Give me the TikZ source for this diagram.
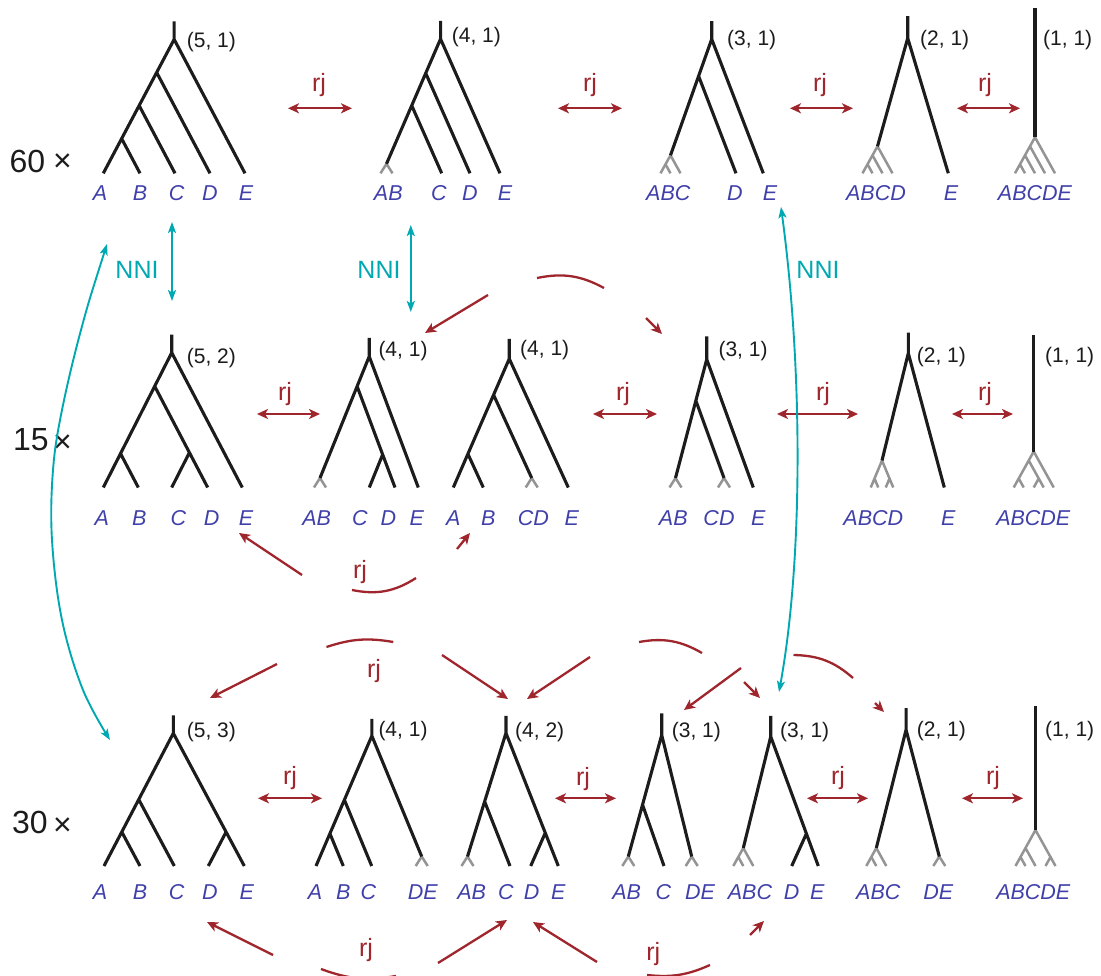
\documentclass[tikz,border=0pt]{standalone}
\usepackage{fontspec}
\setmainfont{Liberation Sans}
\usetikzlibrary{arrows.meta,calc}
\definecolor{lblue}{RGB}{64,64,170}
\definecolor{rjred}{RGB}{158,38,44}
\definecolor{nteal}{RGB}{0,168,178}
\definecolor{fgrey}{RGB}{148,148,148}
\definecolor{ink}{RGB}{28,28,28}
\newcounter{lbl}
\newcommand\Lf[2]{\coordinate (#1) at (#2,\Ly);}
\newcommand\J[3]{\path let \p1=(#2),\p2=(#3) in coordinate (#1) at ({((\y2)-(\y1)+\slL*(\x1)+\slR*(\x2))/(\slL+\slR)},{(\y1)+\slL*((\y2)-(\y1)+\slR*((\x2)-(\x1)))/(\slL+\slR)});}
\newcommand\fanAB[2]{\begin{scope}[shift={(#2,\Ly)}]\coordinate (#1) at (0,-9.5);\draw[fan] (-6,0)--(0,-9.5)--(6,0);\end{scope}}
\newcommand\fanCat[3]{\begin{scope}[shift={(#2,\Ly)}]
 \pgfmathsetmacro\hw{(#3-1)*5}\pgfmathtruncatemacro\nn{#3-2}
 \coordinate (#1) at (0,{-1.8*\hw});
 \draw[fan] (-\hw,0)--(0,{-1.8*\hw})--(\hw,0);
 \foreach \i in {1,...,\nn}{\draw[fan] ({-\hw+10*\i},0)--({-\hw+5*\i},{-9*\i});}
\end{scope}}
\newcommand\fanQ[2]{\begin{scope}[shift={(#2,\Ly)}]\coordinate (#1) at (0,-27);
 \draw[fan] (-11.25,0)--(0,-27)--(11.25,0) (-3.75,0)--(-7.5,-9) (3.75,0)--(7.5,-9);\end{scope}}
\newcommand\fanPa[2]{\begin{scope}[shift={(#2,\Ly)}]\coordinate (#1) at (0,-36);
 \draw[fan] (-20,0)--(0,-36)--(20,0) (-10,0)--(-15,-9) (0,0)--(5,-9) (10,0)--(-5,-27);\end{scope}}
\newcommand\fanPb[2]{\begin{scope}[shift={(#2,\Ly)}]\coordinate (#1) at (0,-36);
 \draw[fan] (-20,0)--(0,-36)--(20,0) (-10,0)--(-15,-9) (0,0)--(-10,-18) (10,0)--(15,-9);\end{scope}}
\newcommand\lb[2]{\stepcounter{lbl}\node[lab] (lb\arabic{lbl}) at (#1,\LabY) {#2};}
\newcommand\nk[3]{\stepcounter{lbl}\node[num] (nk\arabic{lbl}) at (#1,#2) {#3};}
\newcommand\rjd[6]{\coordinate (#1s) at (#2,#4); \coordinate (#1e) at (#3,#4);
 \draw[rja] (#1s) -- (#1e); \node[rjl] (#1l) at (#5,#6) {rj};}
\newcommand\rjs[5]{\coordinate (#1s) at (#2,#3); \coordinate (#1e) at (#4,#5); \draw[rjh] (#1s) -- (#1e);}
\newcommand\rjc[6]{\coordinate (#1s) at (#2,#3); \coordinate (#1e) at (#4,#5); \draw[rjarc] (#1s) to[#6] (#1e);}
\begin{document}
\begin{tikzpicture}[x=1pt,y=-1pt,
  br/.style={draw=ink,line width=3.1pt},
  fan/.style={draw=fgrey,line width=2.5pt},
  lab/.style={font=\fontsize{21.5}{24}\selectfont\itshape,text=lblue,inner sep=0pt},
  num/.style={font=\fontsize{21}{24}\selectfont,text=ink,inner sep=0pt,anchor=west},
  rjl/.style={font=\fontsize{25}{28}\selectfont,text=rjred,inner sep=0pt,anchor=base},
  rja/.style={draw=rjred,line width=2.3pt,{Stealth[length=11pt,width=10pt,inset=3pt]}-{Stealth[length=11pt,width=10pt,inset=3pt]}},
  rjh/.style={draw=rjred,line width=2.3pt,-{Stealth[length=11pt,width=10pt,inset=3pt]}},
  rjarc/.style={draw=rjred,line width=2.3pt},
  nni/.style={draw=nteal,line width=1.9pt,{Stealth[length=11pt,width=8pt,inset=2.5pt]}-{Stealth[length=11pt,width=8pt,inset=2.5pt]}},
  nnil/.style={font=\fontsize{25}{28}\selectfont,text=nteal,inner sep=0pt},
  big/.style={font=\fontsize{32}{36}\selectfont,text=ink,inner sep=0pt}]
\useasboundingbox (0,0) rectangle (1101,976);
\fill[white] (0,0) rectangle (1101,976);

% ---------------- row labels
\node[big] (n60) at (27.5,161.7) {60};
\node[big] (x60) at (62.5,163) {×};
\node[big] (n15) at (30.8,439.2) {15};
\node[big] (x15) at (62.5,444) {×};
\node[big] (n30) at (30,822.5) {30};
\node[big] (x30) at (62.5,826.7) {×};

% ================= ROW 1
\def\Ly{173.3}\def\LabY{192.7}
% (5,1)
\def\slL{1.89}\def\slR{1.89}
\Lf{a}{103.3}\Lf{b}{140}\Lf{c}{175}\Lf{d}{210}\Lf{e}{245}
\J{ab}{a}{b}\J{abc}{a}{c}\J{abcd}{a}{d}\J{r}{a}{e}
\draw[br] (a)--(r)--(e) (b)--(ab) (c)--(abc) (d)--(abcd) (r)--++(0,-18);
\nk{186.7}{41.7}{(5, 1)}
\lb{100}{A}\lb{140}{B}\lb{176.7}{C}\lb{210}{D}\lb{246}{E}
% (4,1)
\def\slL{2.31}\def\slR{2.26}
\fanAB{f}{386.5}\Lf{c}{441.7}\Lf{d}{470}\Lf{e}{500}
\J{n1}{f}{c}\J{n2}{f}{d}\J{r}{f}{e}
\draw[br] (f)--(r)--(e) (c)--(n1) (d)--(n2) (r)--++(0,-18);
\nk{451.7}{37}{(4, 1)}
\lb{388.3}{AB}\lb{439}{C}\lb{470}{D}\lb{505}{E}
% (3,1)
\def\slL{2.82}\def\slR{2.6}
\fanCat{f}{670.5}{3}\Lf{d}{736}\Lf{e}{763.3}
\J{n1}{f}{d}\J{r}{f}{e}
\draw[br] (f)--(r)--(e) (d)--(n1) (r)--++(0,-18);
\nk{727}{40}{(3, 1)}
\lb{668.3}{ABC}\lb{735}{D}\lb{770}{E}
% (2,1)
\def\slL{3.58}\def\slR{3.33}
\fanCat{f}{877.5}{4}\Lf{e}{948.3}
\J{r}{f}{e}
\draw[br] (f)--(r)--(e) (r)--++(0,-22);
\nk{920}{40}{(2, 1)}
\lb{876}{ABCD}\lb{951}{E}
% (1,1)
\fanCat{f}{1035}{5}
\draw[br] (f)--++(0,-129);
\nk{1043}{40}{(1, 1)}
\lb{1035}{ABCDE}
% rj arrows row 1
\rjd{pa}{288}{352}{108.3}{319}{91.7}
\rjd{pb}{558}{622}{108.3}{590}{91.7}
\rjd{pc}{790}{853}{108.3}{820}{91.7}
\rjd{pd}{957}{1020}{108.3}{985}{91.7}

% ================= ROW 2
\def\Ly{487.5}\def\LabY{518.3}
% (5,2)
\def\slL{1.97}\def\slR{1.91}
\Lf{a}{103.3}\Lf{b}{138.3}\Lf{c}{171.7}\Lf{d}{207.7}\Lf{e}{242.3}
\J{ab}{a}{b}\J{cd}{c}{d}\J{abcd}{a}{d}\J{r}{a}{e}
\draw[br] (a)--(r)--(e) (b)--(ab) (d)--(abcd) (c)--(cd) (r)--++(0,-18);
\nk{186.7}{358.3}{(5, 2)}
\lb{101.7}{A}\lb{139.3}{B}\lb{178.3}{C}\lb{211.7}{D}\lb{246}{E}
% (4,1)
\def\slL{2.47}\def\slR{2.67}
\fanAB{f}{320}\Lf{c}{369.3}\Lf{d}{395}\Lf{e}{418.3}
\J{cd}{c}{d}\J{n}{f}{d}\J{r}{f}{e}
\draw[br] (f)--(r)--(e) (d)--(n) (c)--(cd) (r)--++(0,-18.5);
\nk{378.3}{351.4}{(4, 1)}
\lb{316.7}{AB}\lb{360}{C}\lb{388.3}{D}\lb{416.7}{E}
% (4,1)
\def\slL{2.3}\def\slR{2.18}
\Lf{a}{453.3}\Lf{b}{483.3}\fanAB{g}{531.7}\Lf{e}{568.3}
\J{ab}{a}{b}\J{n}{a}{g}\J{r}{a}{e}
\draw[br] (a)--(r)--(e) (b)--(ab) (g)--(n) (r)--++(0,-20);
\nk{520}{350}{(4, 1)}
\lb{453.3}{A}\lb{488.3}{B}\lb{533.3}{CD}\lb{571.7}{E}
% (3,1)
\def\slL{3.8}\def\slR{2.75}
\fanAB{f}{675.5}\fanAB{g}{724}\Lf{e}{753.3}
\J{n}{f}{g}\J{r}{f}{e}
\draw[br] (f)--(r)--(e) (g)--(n) (r)--++(0,-23);
\nk{718.3}{351}{(3, 1)}
\lb{673.3}{AB}\lb{719}{CD}\lb{758.3}{E}
% (2,1)
\def\slL{4.08}\def\slR{3.73}
\fanQ{f}{882}\Lf{e}{944.3}
\J{r}{f}{e}
\draw[br] (f)--(r)--(e) (r)--++(0,-20.6);
\nk{916.7}{356.7}{(2, 1)}
\lb{873.3}{ABCD}\lb{948.3}{E}
% (1,1)
\fanPa{f}{1033.7}
\draw[br] (f)--++(0,-116.5);
\nk{1045}{356.7}{(1, 1)}
\lb{1033.3}{ABCDE}
% rj arrows row 2
\rjd{qa}{257}{320}{414}{285}{400}
\rjd{qb}{593}{657}{414}{623}{400}
\rjd{qc}{777}{858}{414}{823}{400}
\rjd{qd}{952}{1013}{414}{985}{400}

% ================= ROW 3
\def\Ly{866}\def\LabY{891.7}
% (5,3)
\def\slL{1.915}\def\slR{1.87}
\Lf{a}{104}\Lf{b}{140}\Lf{c}{174.3}\Lf{d}{208.3}\Lf{e}{244.3}
\J{ab}{a}{b}\J{abc}{a}{c}\J{de}{d}{e}\J{r}{a}{e}
\draw[br] (a)--(r)--(e) (b)--(ab) (c)--(abc) (d)--(de) (r)--++(0,-18);
\nk{186.7}{731.7}{(5, 3)}
\lb{100}{A}\lb{140}{B}\lb{176.7}{C}\lb{210}{D}\lb{246.7}{E}
% (4,1)
\def\slL{2.33}\def\slR{2.42}
\Lf{a}{316}\Lf{b}{343.3}\Lf{c}{371.7}\fanAB{g}{421.7}
\J{ab}{a}{b}\J{abc}{a}{c}\J{r}{a}{g}
\draw[br] (a)--(r)--(g) (b)--(ab) (c)--(abc) (r)--++(0,-17);
\nk{378.3}{730.7}{(4, 1)}
\lb{315}{A}\lb{343.3}{B}\lb{368.3}{C}\lb{422.7}{DE}
% (4,2)
\def\slL{3.21}\def\slR{2.54}
\fanAB{f}{467.5}\Lf{c}{510}\Lf{d}{530.7}\Lf{e}{558.3}
\J{n}{f}{c}\J{r}{f}{e}
\coordinate (de) at ($(r)!0.751!(e)$);
\draw[br] (f)--(r)--(e) (c)--(n) (d)--(de) (r)--++(0,-17.3);
\nk{515}{731.7}{(4, 2)}
\lb{471.7}{AB}\lb{506}{C}\lb{531.7}{D}\lb{558.3}{E}
% (3,1)
\fanAB{f}{628.3}\Lf{c}{664}\fanAB{g}{691.7}
\coordinate (r) at (661.7,735);
\coordinate (n) at ($(f)!0.426!(r)$);
\draw[br] (f)--(r)--(g) (c)--(n) (r)--++(0,-21.7);
\nk{671.7}{731.7}{(3, 1)}
\lb{626.7}{AB}\lb{663.3}{C}\lb{700}{DE}
% (3,1)
\def\slL{4.06}\def\slR{2.72}
\fanCat{f}{743.3}{3}\Lf{d}{791.7}\Lf{e}{818.3}
\J{r}{f}{e}
\coordinate (de) at ($(r)!0.75!(e)$);
\draw[br] (f)--(r)--(e) (d)--(de) (r)--++(0,-20.7);
\nk{780}{731.7}{(3, 1)}
\lb{750}{ABC}\lb{791.7}{D}\lb{817.3}{E}
% (2,1)
\def\slL{3.97}\def\slR{3.81}
\fanCat{f}{876.3}{3}\fanAB{g}{939.3}
\J{r}{f}{g}
\draw[br] (f)--(r)--(g) (r)--++(0,-21.7);
\nk{916.7}{730.7}{(2, 1)}
\lb{878.3}{ABC}\lb{938.3}{DE}
% (1,1)
\fanPb{f}{1035.5}
\draw[br] (f)--++(0,-124);
\nk{1045}{730.7}{(1, 1)}
\lb{1033.3}{ABCDE}
% rj arrows row 3
\rjd{ua}{258}{322}{798.3}{290}{784}
\rjd{ub}{555}{616}{798.3}{583}{785}
\rjd{uc}{807}{868}{798.3}{838}{784}
\rjd{ud}{962}{1023}{798.3}{993}{784}

% ================= NNI (teal)
\coordinate (ta) at (172,222); \coordinate (tb) at (172,301);
\draw[nni] (ta) -- (tb);
\node[nnil] (tl1) at (137,270) {NNI};
\coordinate (tc) at (410.8,225); \coordinate (td) at (410.8,312);
\draw[nni] (tc) -- (td);
\node[nnil] (tl2) at (379,270) {NNI};
\coordinate (te) at (781,207); \coordinate (tf) at (779,692);
\draw[nni] (te) .. controls (803,370) and (803,560) .. (tf);
\node[nnil] (tl3) at (818,270) {NNI};
\coordinate (tg) at (107,244); \coordinate (th) at (110,740);
\draw[nni] plot[smooth,tension=0.6] coordinates {(tg) (81,330) (62,410) (53,470) (52,540) (62,620) (83,690) (th)};

% ================= rj fragments
% between row 1 and row 2
\rjs{fa}{488}{295}{425}{333}
\rjc{fb}{537}{278}{604}{288}{bend left=20}
\rjs{fc}{646}{318}{662}{334}
% between row 2 and row 3
\rjs{fd}{302}{575}{239}{533}
\node[rjl] (fl1) at (360,578.5) {rj};
\rjc{fe}{352}{590}{416}{578}{bend right=22}
\rjs{ff}{457}{549}{470}{533}
\rjc{fg}{326.5}{647}{393.3}{642}{bend left=14}
\rjs{fh}{277}{664}{210}{698}
\node[rjl] (fl2) at (374,677) {rj};
\rjs{fi}{442}{655}{508}{699}
\rjs{fj}{590}{657}{527}{699}
\rjc{fk}{639}{642}{702}{653}{bend left=20}
\rjs{fm}{741}{668}{684}{710}
\rjs{fn}{744}{682}{760}{698}
\rjc{fo}{793.5}{655}{853}{678}{bend left=20}
\rjs{fp}{875}{703}{884}{712}
% below row 3
\rjs{fq}{273}{955}{207}{922}
\node[rjl] (fl3) at (366,956.7) {rj};
\rjc{fr}{321}{969}{396}{976}{bend right=15}
\rjs{fs}{438}{963}{507}{920}
\rjs{ft}{597}{962}{533}{922}
\node[rjl] (fl4) at (653.3,960.5) {rj};
\rjc{fu}{647}{975}{710}{965}{bend right=15}
\rjs{fv}{750}{935}{764}{921}
\end{tikzpicture}
\end{document}
